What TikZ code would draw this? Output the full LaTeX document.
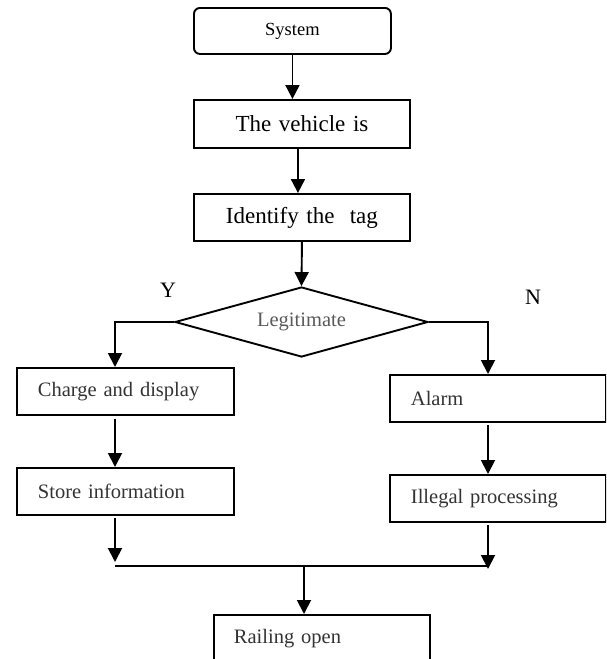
\documentclass[tikz,border=0pt]{standalone}
\usepackage{fontspec}
\setmainfont{Liberation Serif}
\usetikzlibrary{arrows.meta,shapes.geometric}
\begin{document}
\begin{tikzpicture}[x=1pt,y=-1pt,
  box/.style={draw, line width=1.9pt, anchor=north west, minimum height=47pt, inner sep=0pt},
  cbox/.style={box, align=center},
  lbox/.style={box, align=left, inner xsep=#1},
  lowtext/.style={font=\fontsize{20.5}{22}\selectfont, text=black!80},
  arr/.style={line width=1.9pt, -{Triangle[length=14pt,width=14pt]}},
  ln/.style={line width=1.9pt}]
\clip (0,0) rectangle (606,659);
\useasboundingbox (0,0) rectangle (606,659);

\node[cbox, rounded corners=6pt, minimum width=197pt, minimum height=46pt, text width=197pt,
  font=\fontsize{18.5}{20}\selectfont] (sys) at (193,7) {System};
\node[cbox, minimum width=216pt, minimum height=48pt, text width=216pt,
  font=\fontsize{23}{25}\selectfont] (veh) at (193,99) {The vehicle is};
\node[cbox, minimum width=216pt, text width=216pt,
  font=\fontsize{23}{25}\selectfont] (idf) at (193,193) {Identify the\ \ tag};

\node[diamond, draw, line width=1.9pt, minimum width=253pt, minimum height=70pt,
  inner sep=0pt, aspect=3.6, text=black!65, font=\fontsize{20.5}{22}\selectfont] (dia) at (301.5,322) {Legitimate};

\node[font=\fontsize{22}{24}\selectfont] (ylab) at (168,290) {Y};
\node[font=\fontsize{22}{24}\selectfont] (nlab) at (533,297) {N};

\node[lbox=21pt, text width=175pt, lowtext] (chg) at (16,367) {Charge and display};
\node[lbox=21pt, text width=175pt, lowtext] (sto) at (16,467) {Store information};
\node[lbox=21pt, text width=174pt, lowtext] (alm) at (389,374) {Alarm};
\node[lbox=21pt, text width=174pt, lowtext] (ill) at (389,474) {Illegal processing};
\node[lbox=20pt, text width=176pt, lowtext] (rail) at (213,614) {Railing open};

\coordinate (jl) at (115,566);
\coordinate (jr) at (488,566);
\coordinate (jm) at (304,566);

\draw[arr] (sys.south) -- (sys.south |- veh.north);
\draw[arr] ([xshift=-4pt]veh.south) -- ([xshift=-4pt]idf.north);
\draw[arr] (idf.south) -- (dia.north);
\draw[arr] (dia.west) -| (chg.north -| jl);
\draw[arr] (dia.east) -| (alm.north -| jr);
\draw[arr] ([yshift=-3pt]chg.south -| jl) -- (sto.north -| jl);
\draw[arr] ([yshift=-2pt]alm.south -| jr) -- (ill.north -| jr);
\draw[arr] ([yshift=-2pt]sto.south -| jl) -- ([yshift=4pt]jl);
\draw[arr] ([yshift=-2pt]ill.south -| jr) -- ([yshift=-3pt]jr);
\draw[ln] (jl) -- (jr);
\draw[arr] (jm) -- (jm |- rail.north);
\end{tikzpicture}
\end{document}
